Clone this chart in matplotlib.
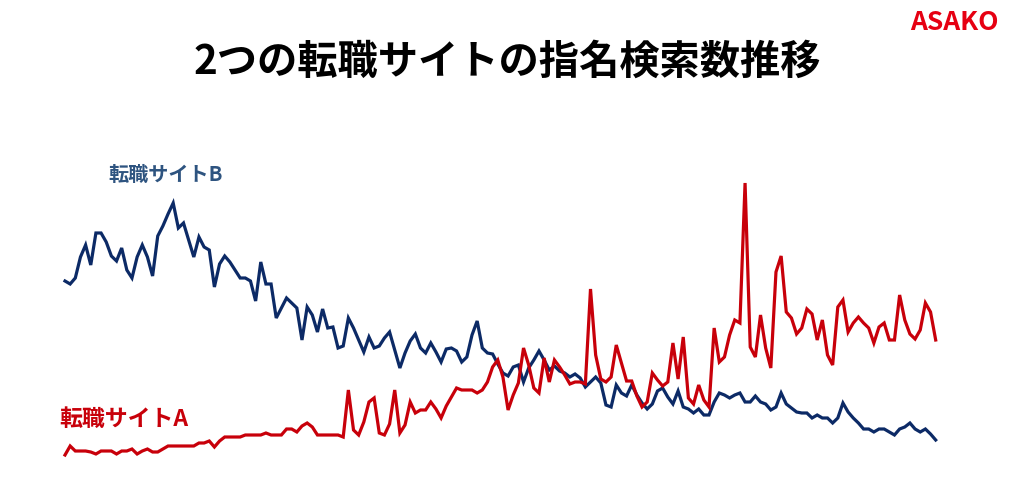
import numpy as np
import matplotlib.pyplot as plt

# weekly branded-search index (arbitrary units)
site_b = [189, 186, 192, 213, 225, 205, 237, 237, 228, 214,
          209, 222, 200, 192, 213, 225, 213, 194, 234, 244,
          256, 267, 242, 247, 230, 213, 233, 223, 220, 183,
          206, 214, 208, 200, 192, 192, 189, 169, 208, 186,
          186, 152, 162, 172, 167, 162, 130, 163, 155, 138,
          161, 142, 143, 122, 124, 152, 142, 130, 118, 133,
          122, 124, 132, 138, 120, 102, 117, 129, 136, 122,
          117, 127, 118, 108, 121, 122, 119, 108, 113, 135,
          149, 122, 117, 116, 106, 97, 94, 103, 105, 88,
          102, 110, 119, 110, 100, 104, 99, 97, 93, 96,
          92, 83, 88, 93, 87, 65, 63, 85, 77, 74,
          85, 75, 67, 61, 66, 79, 82, 73, 66, 79,
          63, 61, 57, 61, 55, 55, 68, 77, 75, 72,
          75, 77, 68, 68, 74, 68, 66, 60, 63, 77,
          66, 62, 58, 57, 57, 52, 55, 52, 52, 47,
          52, 67, 58, 52, 47, 41, 41, 38, 41, 41,
          38, 35, 41, 43, 47, 41, 38, 41, 36, 30]

site_a = [15, 24, 19, 19, 19, 18, 16, 19, 19, 19,
          16, 19, 19, 21, 16, 19, 21, 18, 18, 21,
          24, 24, 24, 24, 24, 24, 27, 27, 29, 23,
          29, 33, 33, 33, 33, 35, 35, 35, 35, 37,
          35, 35, 35, 41, 41, 38, 44, 47, 43, 35,
          35, 35, 35, 35, 33, 80, 40, 35, 48, 68,
          72, 37, 35, 46, 80, 37, 45, 68, 57, 60,
          60, 68, 61, 52, 64, 73, 82, 80, 80, 80,
          77, 80, 88, 103, 110, 93, 60, 75, 87, 122,
          105, 82, 77, 112, 88, 110, 103, 95, 86, 88,
          88, 86, 181, 115, 91, 88, 93, 125, 107, 89,
          89, 74, 63, 68, 97, 90, 84, 88, 127, 91,
          133, 72, 66, 85, 70, 63, 142, 108, 113, 135,
          150, 147, 287, 123, 113, 155, 122, 102, 198, 214,
          158, 152, 136, 142, 161, 156, 130, 150, 115, 105,
          163, 170, 138, 147, 153, 147, 142, 127, 143, 147,
          130, 130, 175, 150, 136, 131, 140, 167, 158, 130]

label_a = '転職サイトA'
label_b = '転職サイトB'
title = '2つの転職サイトの指名検索数推移'

plt.rcParams['font.family'] = ['Noto Sans CJK JP', 'DejaVu Sans']

W, H = 1024, 484
fig = plt.figure(figsize=(W / 100, H / 100), dpi=100)
fig.patch.set_facecolor('white')
ax = fig.add_axes([0, 0, 1, 1])

step = 5.152
x = np.arange(len(site_b))
ax.plot(x, site_b, color='#0c2a66', lw=2.3, solid_joinstyle='miter')
ax.plot(x, site_a, color='#c8000a', lw=2.3, solid_joinstyle='miter')
ax.set_xlim(-65 / step, (W - 65) / step)
ax.set_ylim(470 - H, 470)
ax.axis('off')

fig.text(507 / W, 1 - 62 / H, title, ha='center', va='center',
         fontsize=29, fontweight='bold', color='black')
fig.text(108 / W, 1 - 174 / H, label_b, ha='left', va='center',
         fontsize=14.5, fontweight='bold', color='#2e5480')
fig.text(59 / W, 1 - 419 / H, label_a, ha='left', va='center',
         fontsize=16.5, fontweight='bold', color='#c8000a')
fig.text(954 / W, 1 - 23 / H, 'ASAKO', ha='center', va='center',
         fontsize=19, fontweight='bold', color='#e60012')

fig.savefig('out.png', dpi=100)
